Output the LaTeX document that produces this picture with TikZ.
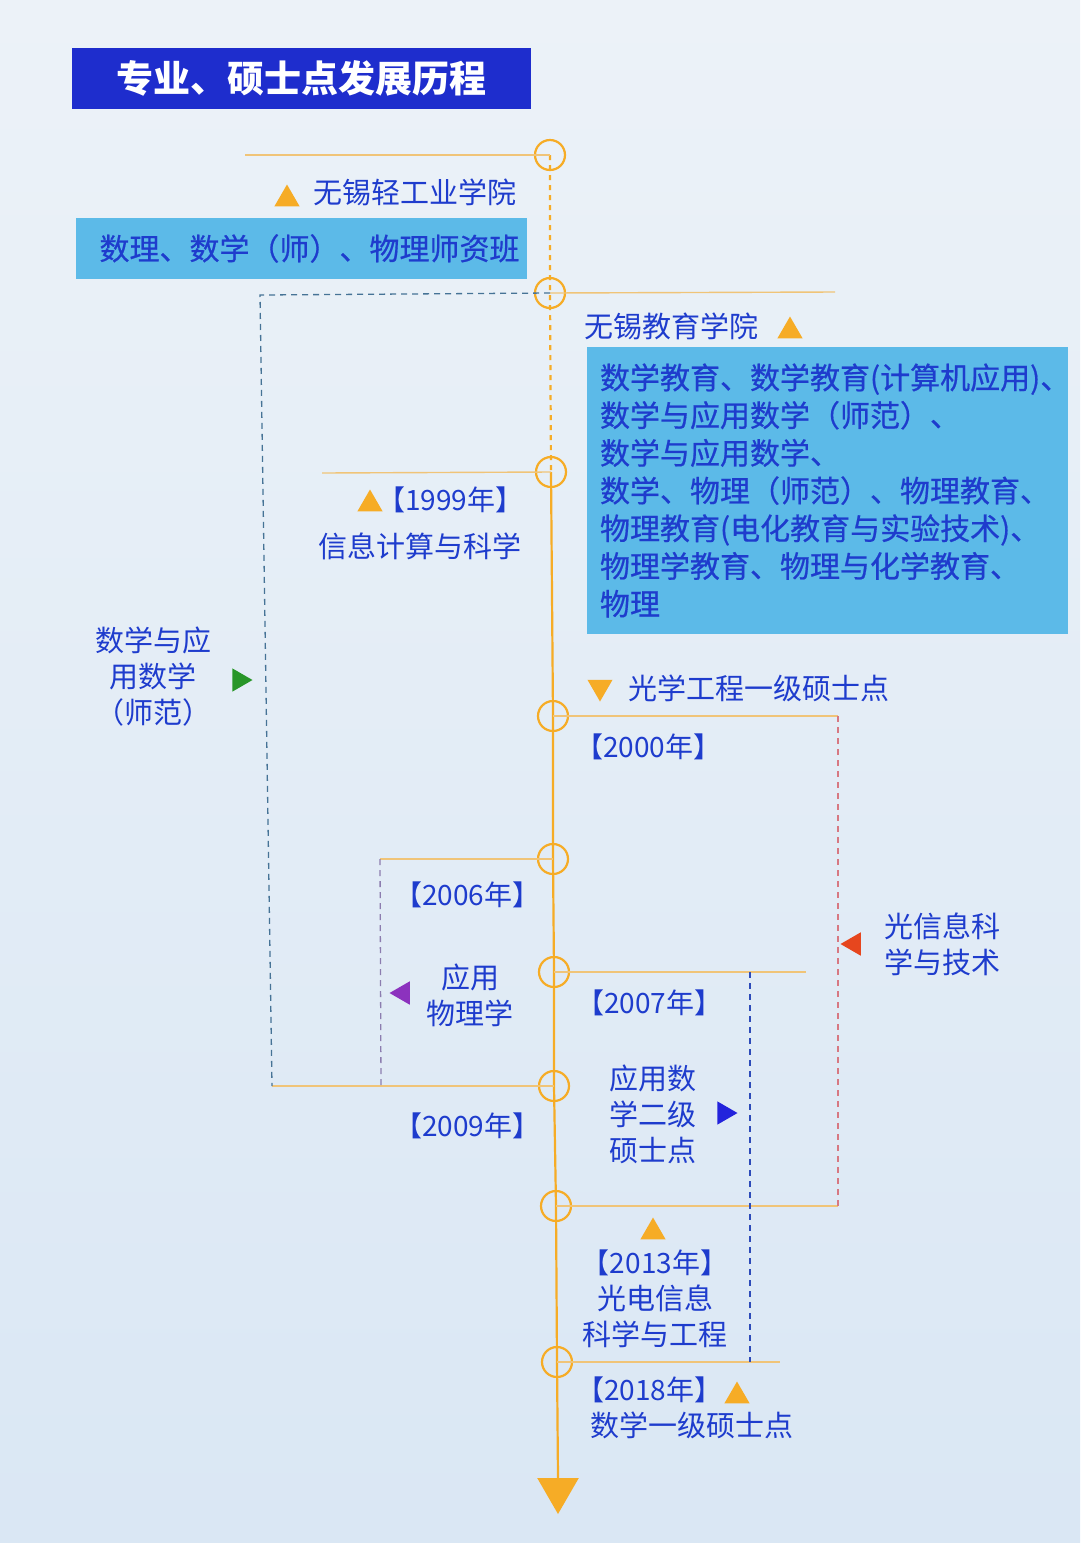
\documentclass[tikz,border=0pt]{standalone}
\usepackage{fontspec}
\usetikzlibrary{shapes.geometric}
\newfontfamily\cjk{Noto Sans CJK SC}
\newfontfamily\cjkheavy{Noto Sans CJK SC}[FakeBold=0.6]
\definecolor{bgtop}{RGB}{236,242,248}
\definecolor{bgbot}{RGB}{218,231,244}
\definecolor{titleblue}{RGB}{30,45,205}
\definecolor{boxcyan}{RGB}{92,186,232}
\definecolor{txtblue}{RGB}{30,60,205}
\definecolor{axisorange}{RGB}{246,172,38}
\definecolor{hlorange}{RGB}{240,196,120}
\definecolor{dashgray}{RGB}{70,115,150}
\definecolor{dashpurple}{RGB}{140,125,175}
\definecolor{dashred}{RGB}{215,120,130}
\definecolor{dashblue}{RGB}{45,75,185}
\definecolor{trigreen}{RGB}{40,150,40}
\definecolor{tripurple}{RGB}{140,50,190}
\definecolor{trired}{RGB}{230,70,30}
\definecolor{triblue}{RGB}{35,35,220}
\begin{document}
\begin{tikzpicture}[x=1pt,y=-1pt]
	\tikzset{
		dot/.style={circle, draw=axisorange, line width=2.2pt, minimum size=30pt, inner sep=0pt},
		lbl/.style={text=txtblue, inner sep=0pt, font=\cjk\fontsize{29}{36}\selectfont},
		yr/.style={text=txtblue, inner sep=0pt, font=\cjk\fontsize{28}{34}\selectfont},
		cbox/.style={fill=boxcyan, inner sep=0pt, text=txtblue, font=\cjkheavy\fontsize{30}{37.7}\selectfont},
		tri/.style={regular polygon, regular polygon sides=3, fill=#1, inner sep=0pt, minimum size=29pt},
		hline/.style={draw=hlorange, line width=1.4pt},
		frame/.style={draw=#1, line width=1.3pt, dash pattern=on 6pt off 5pt},
	}
	% background and margins
	\shade[top color=bgtop, bottom color=bgbot] (0,0) rectangle (1080,1543);
	\useasboundingbox (0,0) rectangle (1080,1543);

	% title
	\node[fill=titleblue, minimum width=459pt, minimum height=61pt, inner sep=0pt,
		text=white, font=\cjk\bfseries\fontsize{37}{40}\selectfont] (title) at (301.5,78.5) {专业、硕士点发展历程};

	% timeline points
	\node[dot] (c1) at (550,155) {};
	\node[dot] (c2) at (550,293) {};
	\node[dot] (c3) at (551,472) {};
	\node[dot] (c4) at (553,716) {};
	\node[dot] (c5) at (553,859) {};
	\node[dot] (c6) at (554,972) {};
	\node[dot] (c7) at (554,1086) {};
	\node[dot] (c8) at (556,1206) {};
	\node[dot] (c9) at (557,1362) {};
	\node[tri=axisorange, minimum size=48pt, shape border rotate=180] (tip) at (558,1490) {};

	\draw[draw=axisorange, line width=2.2pt, dash pattern=on 5pt off 5pt] (c1.center) -- (c2.center) -- (c3.center);
	\draw[draw=axisorange, line width=2.2pt] (c3.center) -- (c4.center) -- (c5.center) -- (c6.center)
		-- (c7.center) -- (c8.center) -- (c9.center) -- (tip.north);

	% side lines
	\coordinate (h1) at (245,155);
	\coordinate (h2) at (835,292);
	\coordinate (h3) at (322,473);
	\coordinate (h4) at (838,716);
	\coordinate (h5) at (380,859);
	\coordinate (h6) at (806,972);
	\coordinate (h7) at (272,1086);
	\coordinate (h8) at (838,1206);
	\coordinate (h9) at (780,1362);
	\draw[hline] (h1) -- (c1.center);
	\draw[hline] (c2.center) -- (h2);
	\draw[hline] (h3) -- (c3.center);
	\draw[hline] (c4.center) -- (h4);
	\draw[hline] (h5) -- (c5.center);
	\draw[hline] (c6.center) -- (h6);
	\draw[hline] (h7) -- (c7.center);
	\draw[hline] (c8.center) -- (h8);
	\draw[hline] (c9.center) -- (h9);

	% span brackets
	\coordinate (g1) at (260,295);
	\coordinate (p1) at (381,1086);
	\coordinate (k1) at (750,972);
	\coordinate (k2) at (750,1362);
	\draw[frame=dashgray] (c2.center) -- (g1) -- (h7);
	\draw[frame=dashpurple] (h5) -- (p1);
	\draw[frame=dashred] (h4) -- (h8);
	\draw[frame=dashblue] (k1) -- (k2);

	% light industry college
	\node[tri=axisorange] (a1) at (287,199) {};
	\node[lbl, anchor=west] (t1) at (313,192) {无锡轻工业学院};
	\node[cbox, minimum width=451pt, minimum height=61pt] (b1) at (301.5,248.5) {\hspace*{16pt}数理、数学（师）、物理师资班};

	% education college
	\node[lbl, anchor=west] (t2) at (584,326) {无锡教育学院};
	\node[tri=axisorange] (a2) at (790,331) {};
	\node[cbox, minimum width=481pt, minimum height=287pt, text width=455pt, align=left] (b2) at (827.5,490.5)
		{数学教育、数学教育(计算机应用)、\\数学与应用数学（师范）、\\数学与应用数学、\\数学、物理（师范）、物理教育、\\物理教育(电化教育与实验技术)、\\物理学教育、物理与化学教育、\\物理};

	% 1999
	\node[tri=axisorange] (a3) at (370,504) {};
	\node[yr, anchor=west] (t3) at (377,500) {【1999年】};
	\node[lbl, anchor=west] (t4) at (318,546) {信息计算与科学};

	% math teacher track
	\node[lbl, align=center] (t5) at (153,677) {数学与应\\用数学\\（师范）};
	\node[tri=trigreen, minimum size=27pt, shape border rotate=270] (a4) at (239,680) {};

	% 2000
	\node[tri=axisorange, shape border rotate=180] (a5) at (600,687) {};
	\node[lbl, anchor=west] (t6) at (628,688) {光学工程一级硕士点};
	\node[yr, anchor=west] (t7) at (575,747) {【2000年】};

	% 2006
	\node[yr, anchor=west] (t8) at (394,895) {【2006年】};
	\node[lbl, align=center] (t9) at (470,995) {应用\\物理学};
	\node[tri=tripurple, minimum size=27pt, shape border rotate=90] (a6) at (403,993) {};

	% 2007
	\node[yr, anchor=west] (t10) at (576,1003) {【2007年】};
	\node[lbl, align=center] (t11) at (653,1114) {应用数\\学二级\\硕士点};
	\node[tri=triblue, minimum size=27pt, shape border rotate=270] (a7) at (724,1113) {};

	% optics track
	\node[lbl, align=left, anchor=west] (t12) at (884,944) {光信息科\\学与技术};
	\node[tri=trired, minimum size=27pt, shape border rotate=90] (a8) at (854,944) {};

	% 2009
	\node[yr, anchor=west] (t13) at (394,1126) {【2009年】};

	% 2013
	\node[tri=axisorange] (a9) at (653,1232) {};
	\node[lbl, align=center] (t14) at (655,1299) {\fontsize{28}{34}\selectfont【2013年】\\光电信息\\科学与工程};

	% 2018
	\node[yr, anchor=west] (t15) at (576,1390) {【2018年】};
	\node[tri=axisorange] (a10) at (737,1396) {};
	\node[lbl, anchor=west] (t16) at (590,1425) {数学一级硕士点};
\end{tikzpicture}
\end{document}
